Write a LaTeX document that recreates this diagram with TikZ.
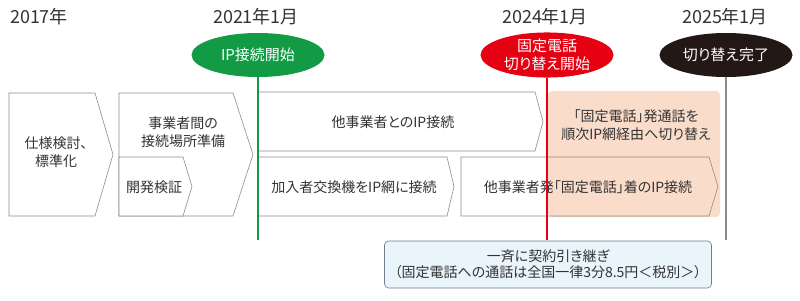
\documentclass[tikz,border=0pt]{standalone}
\usepackage{fontspec}
\setmainfont{Noto Sans CJK JP}[RawFeature=+palt]
\usetikzlibrary{shapes.geometric}
\definecolor{tgreen}{HTML}{129A45}
\definecolor{tred}{HTML}{E50012}
\definecolor{tblack}{HTML}{231815}
\definecolor{tgray}{HTML}{8C8C8C}
\definecolor{tpeach}{HTML}{FADCCB}
\definecolor{tblue}{HTML}{EAF4FB}
\definecolor{tbord}{HTML}{6F7F8F}
\definecolor{ttext}{HTML}{333333}
\begin{document}
\begin{tikzpicture}[x=1pt,y=-1pt,
  yearlbl/.style={text=ttext,font=\fontsize{18}{20}\selectfont,inner sep=0},
  milestone/.style={ellipse,minimum width=133pt,minimum height=44pt,inner sep=0,text=white,
     font=\fontsize{15}{16}\selectfont,align=center},
  boxtxt/.style={text=ttext,font=\fontsize{14}{18}\selectfont,align=center,inner sep=0},
  chev/.style={draw=tgray,line width=0.6pt,fill=white,line join=miter},
  vline/.style={line width=2pt}]
\useasboundingbox (0,0) rectangle (800,300);
\fill[white] (0,0) rectangle (800,300);
% year labels
\node[yearlbl] (y17) at (39,17) {2017年};
\node[yearlbl] (y21) at (256,17) {2021年1月};
\node[yearlbl] (y24) at (545,17) {2024年1月};
\node[yearlbl] (y25) at (725,17) {2025年1月};
% peach area
\fill[tpeach,rounded corners=4pt] (548,91) rectangle (720,217);
% chevron boxes
\draw[chev] (9,93) -- (95,93) -- (113,154.5) -- (95,216) -- (9,216) -- cycle;
\draw[chev] (119,93) -- (233,93) -- (253,154.5) -- (233,216) -- (119,216) -- cycle;
\draw[chev] (119,157) -- (183,157) -- (192,186.5) -- (183,216) -- (119,216) -- cycle;
\draw[chev] (258,92) -- (535,92) -- (543,121.5) -- (535,151) -- (258,151) -- cycle;
\draw[chev] (258,157) -- (447,157) -- (454,186.5) -- (447,216) -- (258,216) -- cycle;
\draw[draw=tgray,line width=0.6pt] (461,157) -- (709,157) -- (718,186.5) -- (709,216) -- (461,216) -- cycle;
% texts
\node[boxtxt] (t1) at (56,152) {仕様検討、\\標準化};
\node[boxtxt] (t2) at (183,132) {事業者間の\\接続場所準備};
\node[boxtxt] (t3) at (154,187) {開発検証};
\node[boxtxt] (t4) at (393,122) {他事業者とのIP接続};
\node[boxtxt] (t5) at (354,187) {加入者交換機をIP網に接続};
\node[boxtxt] (t6) at (588,187) {他事業者発「固定電話」着のIP接続};
\node[boxtxt] (t7) at (636,125) {「固定電話」発通話を\\順次IP網経由へ切り替え};
% milestones
\node[milestone,fill=tgreen] (m1) at (258,55) {IP接続開始};
\node[milestone,fill=tred,font=\fontsize{15}{18}\selectfont] (m2) at (547,55) {固定電話\\切り替え開始};
\node[milestone,fill=tblack] (m3) at (726,55) {切り替え完了};
\coordinate (e1) at (258,240);
\coordinate (e2) at (547,240);
\coordinate (e3) at (726,240);
\draw[vline,tgreen] (m1.south) -- (e1);
\draw[vline,tred] (m2.south) -- (e2);
\draw[vline,tgray] (m3.south) -- (e3);
% bottom note
\node[draw=tbord,fill=tblue,rounded corners=4pt,line width=0.6pt,minimum width=327pt,minimum height=47pt,
  text=ttext,font=\fontsize{14}{16}\selectfont,align=center,inner sep=0] (note) at (548,264.5)
  {一斉に契約引き継ぎ\\（固定電話への通話は全国一律3分8.5円＜税別＞）};
\end{tikzpicture}
\end{document}
